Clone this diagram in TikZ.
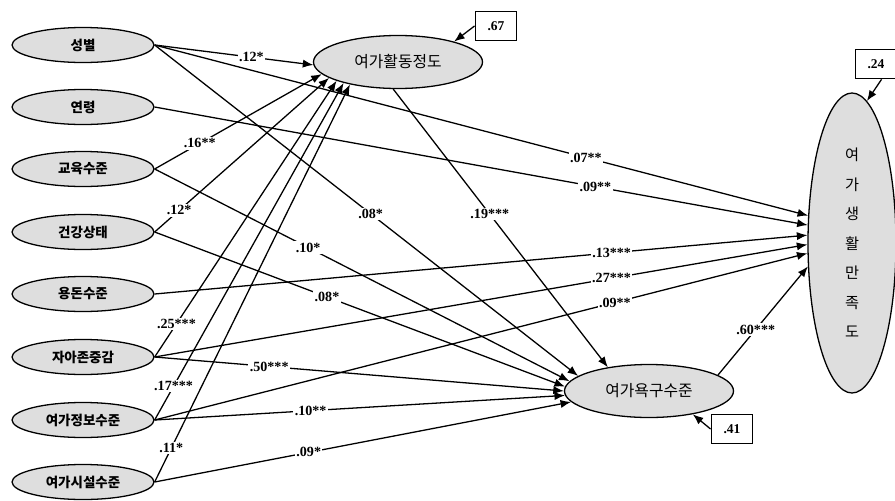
\documentclass[tikz,border=0pt]{standalone}
\usepackage{fontspec}
\setmainfont{Liberation Serif}
\newfontfamily\kr{Noto Sans CJK KR}
\usepackage{tikz}
\usetikzlibrary{shapes.geometric, arrows.meta, positioning}

\begin{document}
\begin{tikzpicture}[x=0.03cm, y=-0.03cm,
    var/.style={ellipse, draw, line width=1.1pt, fill=black!13, inner sep=0pt,
        minimum width=4.26cm, minimum height=1.05cm, font=\kr\bfseries\fontsize{11.5}{12}\selectfont},
    mid/.style={ellipse, draw, line width=1.1pt, fill=black!13, inner sep=0pt,
        minimum width=5.07cm, minimum height=1.59cm, font=\kr\fontsize{13.5}{14}\selectfont},
    errbox/.style={draw, line width=1.1pt, fill=white, minimum width=1.25cm, minimum height=0.88cm,
        inner sep=0pt, font=\bfseries\fontsize{11.5}{11.5}\selectfont},
    link/.style={line width=1.1pt, -{Latex[length=9pt, width=7pt]}},
    lbl/.style={fill=white, inner sep=1.2pt, font=\bfseries\fontsize{12}{12}\selectfont}]
    \useasboundingbox (0,0) rectangle (895,500);

    % Exogenous variables
    \node[var] (gender) at (83,45)  {성별};
    \node[var] (age)    at (83,107) {연령};
    \node[var] (edu)    at (83,169) {교육수준};
    \node[var] (health) at (83,232) {건강상태};
    \node[var] (money)  at (83,294) {용돈수준};
    \node[var] (esteem) at (83,357) {자아존중감};
    \node[var] (info)   at (83,420) {여가정보수준};
    \node[var] (facil)  at (83,482) {여가시설수준};

    % Mediators and outcome
    \node[mid] (act)  at (398,62)  {여가활동정도};
    \node[mid] (need) at (649,391) {여가욕구수준};
    \node[ellipse, draw, line width=1.1pt, fill=black!13, inner sep=0pt, minimum width=2.64cm,
        minimum height=9cm, align=center, font=\kr\fontsize{13}{25.2}\selectfont]
        (sat) at (852,243) {여\\가\\생\\활\\만\\족\\도};

    % Paths to leisure activity
    \draw[link] (gender.east) -- node[lbl, pos=0.61] {.12*} (act.182);
    \draw[link] (edu.east) -- node[lbl, pos=0.27] {.16**} (act.189);
    \draw[link] (health.east) -- node[lbl, pos=0.14] {.12*} (act.193);
    \draw[link] (esteem.east) -- node[lbl, pos=0.12] {.25***} (act.197);
    \draw[link] (info.east) -- node[lbl, pos=0.10] {.17***} (act.201);
    \draw[link] (facil.east) -- node[lbl, pos=0.085] {.11*} (act.205);

    % Paths to leisure need
    \draw[link] (gender.east) -- node[lbl, pos=0.51] {.08*} (need.168);
    \draw[link] (edu.east) -- node[lbl, pos=0.37] {.10*} (need.173);
    \draw[link] (health.east) -- node[lbl, pos=0.42] {.08*} (need.177);
    \draw[link] (esteem.east) -- node[lbl, pos=0.28] {.50***} (need.180);
    \draw[link] (info.east) -- node[lbl, pos=0.38] {.10**} (need.183);
    \draw[link] (facil.east) -- node[lbl, pos=0.37] {.09*} (need.188);
    \draw[link] (act.-100) -- node[lbl, pos=0.45] {.19***} (need.150);

    % Paths to satisfaction
    \draw[link] (gender.east) -- node[lbl, pos=0.66] {.07**} (sat.148);
    \draw[link] (age.east) -- node[lbl, pos=0.675] {.09**} (sat.158);
    \draw[link] (money.east) -- node[lbl, pos=0.70] {.13***} (sat.170);
    \draw[link] (esteem.east) -- node[lbl, pos=0.70] {.27***} (sat.182);
    \draw[link] (info.east) -- node[lbl, pos=0.705] {.09**} (sat.193);
    \draw[link] (need.13) -- node[lbl, pos=0.42] {.60***} (sat.208);

    % Explained variance
    \node[errbox] (r1) at (496,26) {.67};
    \node[errbox] (r2) at (732,429) {.41};
    \node[errbox] (r3) at (876,64) {.24};
    \draw[link] (r1.west) -- (act.20);
    \draw[link] (r2.west) -- (need.-28);
    \draw[link] (r3.-70) -- (sat.84);
\end{tikzpicture}
\end{document}
